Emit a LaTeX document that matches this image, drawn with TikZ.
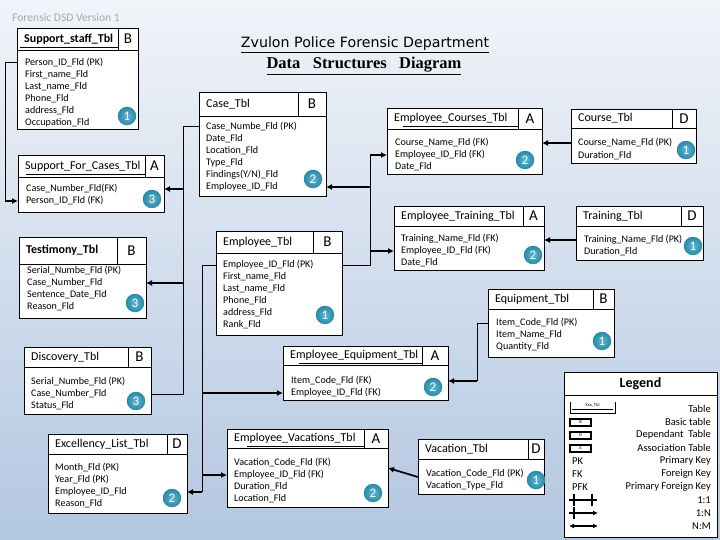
\documentclass[tikz,border=0pt]{standalone}
\usepackage{fontspec}
\setmainfont{Carlito}
\newfontfamily\titlefont{DejaVu Sans}
\newfontfamily\serfont{Liberation Serif}
\usetikzlibrary{arrows.meta}
\definecolor{bgtop}{HTML}{F1F4F9}
\definecolor{bgbot}{HTML}{B3C7E1}
\definecolor{badgein}{HTML}{5DB8D2}
\definecolor{badgeout}{HTML}{2A88A6}
\definecolor{graytxt}{HTML}{A3AAB3}
\tikzset{
 tbox/.style={draw, fill=white, line width=0.9pt, inner sep=0pt, outer sep=0pt},
 tline/.style={line width=0.9pt},
 uline/.style={line width=1pt},
 ttl/.style={anchor=west, inner sep=0pt, font=\fontsize{12}{14}\selectfont},
 ltr/.style={inner sep=0pt, font=\fontsize{15}{17}\selectfont},
 fld/.style={anchor=west, inner sep=0pt, font=\fontsize{10.1}{11}\selectfont},
 badge/.style={circle, inner sep=0pt, minimum size=18.5pt, inner color=badgein, outer color=badgeout, text=white, font=\fontsize{13}{13}\selectfont},
 trunk/.style={line width=1pt},
 arr/.style={line width=1.7pt, -{Latex[length=6pt,width=6pt]}},
 legtxt/.style={anchor=east, inner sep=0pt, font=\fontsize{10.5}{12}\selectfont},
 legkey/.style={anchor=west, inner sep=0pt, font=\fontsize{10.5}{12}\selectfont},
 tiny/.style={inner sep=0pt, font=\fontsize{4.5}{5}\selectfont},
 legsym/.style={line width=1.3pt},
}
\newcommand{\DBtable}[9]{%
 \node[tbox, anchor=north west, minimum width={(#4-#2)*1pt}, minimum height={(#5-#3)*1pt}] (#1) at (#2,#3) {};
 \draw[tline] (#2,#6) -- (#4,#6);
 \draw[tline] (#7,#3) rectangle (#4,#6);
 \node[ttl] (#1t) at ({#2+7},{(#3+#6)/2}) {#8};
 \node[ltr] (#1l) at ({(#7+#4)/2},{(#3+#6)/2}) {#9};
}
\newcommand{\DBfields}[5]{%
 \foreach \fldtext [count=\fldnum] in {#5} {\node[fld] (#1f\fldnum) at (#2,{#3+#4*(\fldnum-1)}) {\fldtext};}
}
\begin{document}
\begin{tikzpicture}[x=1pt,y=-1pt]
\useasboundingbox (0,0) rectangle (720,540);
\fill[top color=bgtop, bottom color=bgbot] (0,0) rectangle (720,540);

% titles
\node[anchor=west, inner sep=0pt, text=graytxt, font=\fontsize{11.6}{13}\selectfont] (ver) at (12,18) {Forensic DSD Version 1};
\node[inner sep=0pt, font=\titlefont\fontsize{14.2}{16}\selectfont] (t1) at (365,45) {\underline{Zvulon Police Forensic Department}};
\node[inner sep=0pt, font=\serfont\bfseries\fontsize{16.5}{18}\selectfont] (t2) at (364,66) {\underline{Data\ \ \ Structures\ \ \ Diagram}};

% Support_staff_Tbl
\DBtable{sst}{17}{28}{138}{129}{50}{118}{\textbf{Support\_staff\_Tbl}}{B}
\draw[uline] (20,48) -- (118,48);
\DBfields{sst}{25}{63}{12}{Person\_ID\_Fld (PK),First\_name\_Fld,Last\_name\_Fld,Phone\_Fld,address\_Fld,Occupation\_Fld}
\node[badge] (sstb) at (127,116) {1};

% Support_For_Cases_Tbl
\DBtable{sfc}{18}{155}{164}{212}{177}{145}{Support\_For\_Cases\_Tbl}{A}
\draw[uline] (26,175) -- (145,175);
\DBfields{sfc}{26}{189}{12}{Case\_Number\_Fld(FK),Person\_ID\_Fld (FK)}
\node[badge] (sfcb) at (152,199) {3};

% Testimony_Tbl
\DBtable{tst}{19}{237}{146}{318}{264}{117}{\textbf{Testimony\_Tbl}}{B}
\DBfields{tst}{27}{271}{12}{Serial\_Numbe\_Fld (PK),Case\_Number\_Fld,Sentence\_Date\_Fld,Reason\_Fld}
\node[badge] (tstb) at (135,303) {3};

% Discovery_Tbl
\DBtable{dsc}{24}{347}{151}{414}{367}{128}{Discovery\_Tbl}{B}
\DBfields{dsc}{31}{382}{12}{Serial\_Numbe\_Fld (PK),Case\_Number\_Fld,Status\_Fld}
\node[badge] (dscb) at (136,401) {3};

% Excellency_List_Tbl
\DBtable{exl}{48}{434}{187}{513}{454}{167}{Excellency\_List\_Tbl}{D}
\DBfields{exl}{55}{468}{12}{Month\_Fld (PK),Year\_Fld (PK),Employee\_ID\_Fld,Reason\_Fld}
\node[badge] (exlb) at (172,498) {2};

% Case_Tbl
\DBtable{case}{199}{92}{326}{196}{116}{298}{Case\_Tbl}{B}
\DBfields{case}{206}{127}{12}{Case\_Numbe\_Fld (PK),Date\_Fld,Location\_Fld,Type\_Fld,Findings(Y/N)\_Fld,Employee\_ID\_Fld}
\node[badge] (caseb) at (313,179) {2};

% Employee_Tbl
\DBtable{emp}{216}{231}{342}{335}{253}{313}{Employee\_Tbl}{B}
\DBfields{emp}{223}{265}{12}{Employee\_ID\_Fld (PK),First\_name\_Fld,Last\_name\_Fld,Phone\_Fld,address\_Fld,Rank\_Fld}
\node[badge] (empb) at (325,315) {1};

% Employee_Courses_Tbl
\DBtable{ec}{387}{108}{542}{174}{129}{518}{Employee\_Courses\_Tbl}{A}
\draw[uline] (403,127) -- (518,127);
\DBfields{ec}{395}{143}{12}{Course\_Name\_Fld (FK),Employee\_ID\_Fld (FK),Date\_Fld}
\node[badge] (ecb) at (525,160) {2};

% Employee_Training_Tbl
\DBtable{et}{394}{206}{544}{270}{226}{523}{Employee\_Training\_Tbl}{A}
\DBfields{et}{401}{239}{12}{Training\_Name\_Fld (FK),Employee\_ID\_Fld (FK),Date\_Fld}
\node[badge] (etb) at (533,255) {2};

% Course_Tbl
\DBtable{crs}{571}{109}{696}{163}{128}{672}{Course\_Tbl}{D}
\DBfields{crs}{578}{143}{13}{Course\_Name\_Fld (PK),Duration\_Fld}
\node[badge] (crsb) at (686,150) {1};

% Training_Tbl
\DBtable{trn}{576}{206}{703}{260}{226}{681}{Training\_Tbl}{D}
\DBfields{trn}{584}{240}{12}{Training\_Name\_Fld (PK),Duration\_Fld}
\node[badge] (trnb) at (693,246) {1};

% Equipment_Tbl
\DBtable{eqp}{488}{289}{614}{357}{309}{593}{Equipment\_Tbl}{B}
\DBfields{eqp}{496}{323}{12}{Item\_Code\_Fld (PK),Item\_Name\_Fld,Quantity\_Fld}
\node[badge] (eqpb) at (602,341) {1};

% Employee_Equipment_Tbl
\DBtable{ee}{283}{346}{448}{400}{365}{422}{Employee\_Equipment\_Tbl}{A}
\draw[uline] (299,363) -- (422,363);
\DBfields{ee}{291}{381}{12}{Item\_Code\_Fld (FK),Employee\_ID\_Fld (FK)}
\node[badge] (eeb) at (433,387) {2};

% Employee_Vacations_Tbl
\DBtable{ev}{227}{429}{388}{507}{448}{364}{Employee\_Vacations\_Tbl}{A}
\draw[uline] (247,446) -- (364,446);
\DBfields{ev}{234}{463}{12}{Vacation\_Code\_Fld (FK),Employee\_ID\_Fld (FK),Duration\_Fld,Location\_Fld}
\node[badge] (evb) at (373,493) {2};

% Vacation_Tbl
\DBtable{vac}{418}{439}{544}{494}{459}{528}{Vacation\_Tbl}{D}
\DBfields{vac}{426}{474}{12}{Vacation\_Code\_Fld (PK),Vacation\_Type\_Fld}
\node[badge] (vacb) at (536,480) {1};

% Legend
\node[tbox, anchor=north west, minimum width=153pt, minimum height=165pt] (leg) at (564,372) {};
\draw[tline] (564,395) -- (717,395);
\node[inner sep=0pt, font=\bfseries\fontsize{14}{16}\selectfont] (legt) at (640.5,383.5) {Legend};
\node[legtxt] (lg1) at (711,409) {Table};
\node[legtxt] (lg2) at (711,422) {Basic table};
\node[legtxt] (lg3) at (711,435) {Dependant\ \ Table};
\node[legtxt] (lg4) at (711,448) {Association Table};
\node[legtxt] (lg5) at (711,461) {Primary Key};
\node[legtxt] (lg6) at (711,474) {Foreign Key};
\node[legtxt] (lg7) at (711,487) {Primary Foreign Key};
\node[legtxt] (lg8) at (711,500) {1:1};
\node[legtxt] (lg9) at (711,513) {1:N};
\node[legtxt] (lg10) at (711,526) {N:M};
\draw[line width=0.6pt] (570,402) -- (570,413) -- (615,413) -- (615,402);
\draw[line width=0.6pt] (572,409.5) -- (613,409.5);
\node[tiny] (lsx) at (592.5,405.5) {Xxx\_Tbl};
\draw[legsym] (570,419) rectangle (591,426);
\node[tiny] (lsb) at (580.5,422.5) {B};
\draw[legsym] (570,432) rectangle (591,439);
\node[tiny] (lsd) at (580.5,435.5) {D};
\draw[legsym] (570,445) rectangle (591,452);
\node[tiny] (lsa) at (580.5,448.5) {A};
\node[legkey] (lpk) at (572,461) {PK};
\node[legkey] (lfk) at (572,474) {FK};
\node[legkey] (lpfk) at (572,487) {PFK};
\draw[legsym] (569,500) -- (597,500);
\draw[legsym] (574,494) -- (574,506);
\draw[legsym] (592,494) -- (592,506);
\draw[legsym, -{Latex[length=5pt,width=5pt]}] (569,513) -- (598,513);
\draw[legsym] (574,507) -- (574,519);
\draw[legsym, {Latex[length=5pt,width=5pt]}-{Latex[length=5pt,width=5pt]}] (569,526) -- (598,526);

% connectors
\coordinate (xs) at (5,0);
\draw[trunk] (sst.west |- sstf1) -- (xs |- sstf1) -- (xs |- sfcf2);
\draw[arr] (xs |- sfcf2) -- (sfc.west |- sfcf2);

\coordinate (xc) at (183,0);
\draw[trunk] (case.west |- casef1) -- (xc |- casef1) -- (xc |- dscf2) -- (dsc.east |- dscf2);
\draw[arr] (xc |- sfcf1) -- (sfc.east |- sfcf1);
\draw[arr] (xc |- tstf2) -- (tst.east |- tstf2);

\coordinate (xe) at (370,0);
\draw[trunk] (emp.east |- empf1) -- (xe |- empf1) -- (xe |- ecf2);
\draw[arr] (xe |- casef6) -- (case.east |- casef6);
\draw[arr] (xe |- ecf2) -- (ec.west |- ecf2);
\draw[arr] (xe |- etf2) -- (et.west |- etf2);

\coordinate (xw) at (202,0);
\draw[trunk] (emp.west |- empf1) -- (xw |- empf1) -- (xw |- exlf3);
\draw[arr] (xw |- eef2) -- (ee.west |- eef2);
\draw[arr] (xw |- evf2) -- (ev.west |- evf2);
\draw[arr] (xw |- exlf3) -- (exl.east |- exlf3);

\draw[arr] (crs.west |- crsf1) -- (ec.east |- crsf1);
\draw[arr] (trn.west |- trnf1) -- (et.east |- trnf1);

\coordinate (xq) at (477,0);
\draw[trunk] (eqp.west |- eqpf1) -- (xq |- eqpf1) -- (xq |- eef1);
\draw[arr] (xq |- eef1) -- (ee.east |- eef1);

\draw[arr] ([yshift=-3pt]vac.west |- vacf1) -- ([yshift=-5pt]ev.east |- evf1);
\end{tikzpicture}
\end{document}
